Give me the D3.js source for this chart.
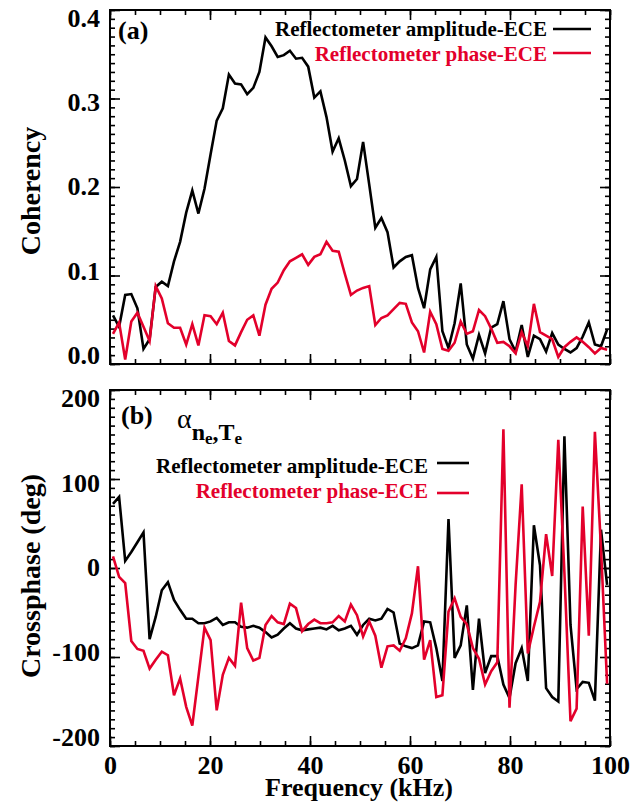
<!DOCTYPE html>
<html>
<head>
<meta charset="utf-8">
<script src="https://cdn.jsdelivr.net/npm/d3@7"></script>
<style>
  body { margin: 0; background: #fff; }
  svg text { font-family: "Liberation Serif", "Times New Roman", serif; font-weight: bold; }
</style>
</head>
<body>
<svg id="chart" width="633" height="812"></svg>
<script>
// frequency grid (kHz)
var freq = [0.60, 1.82, 3.04, 4.26, 5.48, 6.70, 7.92, 9.14, 10.36, 11.58,
    12.80, 14.02, 15.24, 16.46, 17.68, 18.90, 20.12, 21.34, 22.56, 23.78,
    25.00, 26.22, 27.44, 28.66, 29.88, 31.10, 32.32, 33.54, 34.76, 35.98,
    37.20, 38.42, 39.64, 40.86, 42.08, 43.30, 44.52, 45.74, 46.96, 48.18,
    49.40, 50.62, 51.84, 53.06, 54.28, 55.50, 56.72, 57.94, 59.16, 60.38,
    61.60, 62.82, 64.04, 65.26, 66.48, 67.70, 68.92, 70.14, 71.36, 72.58,
    73.80, 75.02, 76.24, 77.46, 78.68, 79.90, 81.12, 82.34, 83.56, 84.78,
    86.00, 87.22, 88.44, 89.66, 90.88, 92.10, 93.32, 94.54, 95.76, 96.98,
    98.20, 99.42];

// (a) coherency
var cohAmp = [0.055, 0.042, 0.078, 0.079, 0.063, 0.017, 0.028, 0.087, 0.093, 0.088,
    0.116, 0.138, 0.171, 0.196, 0.170, 0.198, 0.237, 0.275, 0.289, 0.327,
    0.317, 0.316, 0.305, 0.312, 0.330, 0.369, 0.359, 0.347, 0.349, 0.354,
    0.345, 0.346, 0.336, 0.301, 0.308, 0.279, 0.240, 0.255, 0.230, 0.201,
    0.209, 0.251, 0.203, 0.154, 0.165, 0.149, 0.109, 0.116, 0.121, 0.123,
    0.086, 0.063, 0.107, 0.121, 0.037, 0.018, 0.046, 0.091, 0.022, 0.006,
    0.033, 0.012, 0.041, 0.045, 0.071, 0.028, 0.014, 0.044, 0.008, 0.032,
    0.028, 0.014, 0.035, 0.022, 0.017, 0.013, 0.018, 0.031, 0.047, 0.022,
    0.020, 0.039];
var cohPhase = [0.034, 0.047, 0.005, 0.048, 0.058, 0.042, 0.026, 0.088, 0.074, 0.046,
    0.041, 0.041, 0.022, 0.045, 0.021, 0.055, 0.054, 0.045, 0.058, 0.026,
    0.021, 0.036, 0.050, 0.055, 0.032, 0.067, 0.085, 0.092, 0.106, 0.116,
    0.120, 0.124, 0.112, 0.121, 0.124, 0.138, 0.128, 0.127, 0.102, 0.078,
    0.083, 0.086, 0.088, 0.044, 0.052, 0.055, 0.062, 0.069, 0.068, 0.047,
    0.037, 0.013, 0.059, 0.045, 0.017, 0.015, 0.024, 0.048, 0.034, 0.037,
    0.061, 0.054, 0.040, 0.024, 0.025, 0.020, 0.012, 0.036, 0.020, 0.068,
    0.036, 0.032, 0.028, 0.008, 0.019, 0.025, 0.030, 0.025, 0.019, 0.012,
    0.018, 0.016];

// (b) crossphase in degrees
var phAmp = [72, 80, 8, 18, 29, 40, -80, -55, -25, -16,
    -36, -47, -57, -57, -62, -62, -60, -56, -64, -61,
    -61, -66, -67, -65, -67, -72, -78, -75, -68, -62,
    -68, -70, -69, -68, -67, -69, -65, -70, -68, -65,
    -75, -64, -57, -59, -57, -46, -50, -85, -88, -90,
    -87, -60, -61, -90, -127, 55, -101, -87, -42, -137,
    -57, -118, -99, -99, -131, -146, -107, -90, -127, 48,
    3, -135, -145, -150, 148, -64, -136, -128, -129, -149,
    43, -19];
var phPhase = [13, -10, -17, -82, -91, -93, -113, -103, -94, -98,
    -143, -124, -156, -177, -122, -67, -81, -160, -120, -101,
    -110, -39, -90, -104, -101, -64, -54, -61, -63, -40,
    -45, -71, -63, -58, -62, -62, -61, -54, -60, -41,
    -53, -77, -60, -76, -112, -88, -87, -93, -79, -51,
    2, -103, -81, -145, -143, -49, -34, -55, -63, -90,
    -102, -131, -116, -106, 156, -157, -19, 94, -96, -66,
    -38, 38, -9, 144, -5, -172, -158, 69, -76, 153,
    22, -130];

var xTicks = [0, 20, 40, 60, 80, 100];
var cohTicks = [0.0, 0.1, 0.2, 0.3, 0.4];
var phTicks = [-200, -100, 0, 100, 200];
var legendLabels = ["Reflectometer amplitude-ECE", "Reflectometer phase-ECE"];
var colors = ["#000000", "#e3002b"];

var svg = d3.select("#chart");
var left = 110, right = 610;

var x = d3.scaleLinear().domain([0, 100]).range([left, right]);
var yA = d3.scaleLinear().domain([0, 0.4]).range([364, 10]);
var yB = d3.scaleLinear().domain([-200, 200]).range([746, 390]);

function drawFrame(y, majors, minorStep, fmt, showX) {
    var top = y.range()[1], bottom = y.range()[0];
    var g = svg.append("g");
    var d = y.domain();
    var minors = d3.range(d[0], d[1] + minorStep / 2, minorStep);
    var xMinor = d3.range(0, 101, 5);
    // tick labels sit a little inside the frame at the ends, like the original
    var labelY = d3.scaleLinear().domain(d).range([bottom - 9, top + 8]);

    // minor ticks
    g.append("g").attr("transform", "translate(0," + bottom + ")")
        .call(d3.axisBottom(x).tickValues(xMinor).tickSize(-5).tickFormat(""));
    g.append("g").attr("transform", "translate(0," + top + ")")
        .call(d3.axisTop(x).tickValues(xMinor).tickSize(-5).tickFormat(""));
    g.append("g").attr("transform", "translate(" + left + ",0)")
        .call(d3.axisLeft(y).tickValues(minors).tickSize(-5).tickFormat(""));
    g.append("g").attr("transform", "translate(" + right + ",0)")
        .call(d3.axisRight(y).tickValues(minors).tickSize(-5).tickFormat(""));

    // major ticks
    g.append("g").attr("transform", "translate(0," + bottom + ")")
        .call(d3.axisBottom(x).tickValues(xTicks).tickSize(-10).tickPadding(10)
            .tickFormat(showX ? function(v) { return String(v); } : ""));
    g.append("g").attr("transform", "translate(0," + top + ")")
        .call(d3.axisTop(x).tickValues(xTicks).tickSize(-10).tickFormat(""));
    var ly = g.append("g").attr("transform", "translate(" + left + ",0)")
        .call(d3.axisLeft(y).tickValues(majors).tickSize(-10).tickPadding(10).tickFormat(fmt));
    g.append("g").attr("transform", "translate(" + right + ",0)")
        .call(d3.axisRight(y).tickValues(majors).tickSize(-10).tickFormat(""));

    ly.selectAll(".tick text").attr("y", function(v) { return labelY(v) - y(v); });

    g.selectAll(".domain").remove();
    g.selectAll(".tick line").attr("stroke", "#000").attr("stroke-width", 1.6);
    g.selectAll(".tick text").attr("fill", "#000")
        .style("font-size", "26px");

    g.append("rect")
        .attr("x", left).attr("y", top)
        .attr("width", right - left).attr("height", bottom - top)
        .attr("fill", "none").attr("stroke", "#000").attr("stroke-width", 2);
}

drawFrame(yA, cohTicks, 0.01, d3.format(".1f"), false);
drawFrame(yB, phTicks, 10, function(v) { return String(v); }, true);

function drawLine(y, values, color) {
    var line = d3.line()
        .x(function(d, i) { return x(freq[i]); })
        .y(function(d) { return y(d); });
    svg.append("path")
        .datum(values)
        .attr("d", line)
        .attr("fill", "none")
        .attr("stroke", color)
        .attr("stroke-width", 2.6)
        .attr("stroke-linejoin", "miter");
}

drawLine(yA, cohAmp, colors[0]);
drawLine(yA, cohPhase, colors[1]);
drawLine(yB, phAmp, colors[0]);
drawLine(yB, phPhase, colors[1]);

// legends
function legend(textRight, lineX0, lineX1, rows) {
    rows.forEach(function(r, i) {
        svg.append("text")
            .attr("x", textRight).attr("y", r.base)
            .attr("text-anchor", "end")
            .style("font-size", "21px")
            .attr("fill", colors[i])
            .text(legendLabels[i]);
        svg.append("line")
            .attr("x1", lineX0).attr("x2", lineX1)
            .attr("y1", r.line).attr("y2", r.line)
            .attr("stroke", colors[i]).attr("stroke-width", 2.6);
    });
}
legend(547, 553, 591, [{base: 36, line: 29}, {base: 61, line: 53}]);
legend(428, 437, 469, [{base: 473, line: 463}, {base: 498, line: 493}]);

// panel tags
svg.append("text").attr("x", 118).attr("y", 39).style("font-size", "26px").text("(a)");
svg.append("text").attr("x", 121).attr("y", 424).style("font-size", "26px").text("(b)");

// alpha_{n_e,T_e}
var alpha = svg.append("text").attr("x", 177).attr("y", 428);
alpha.append("tspan").style("font-size", "28px").style("font-weight", "normal").text("\u03b1");
alpha.append("tspan").attr("y", 440).style("font-size", "24px").text("n");
alpha.append("tspan").attr("y", 444).style("font-size", "17px").text("e");
alpha.append("tspan").attr("y", 440).style("font-size", "24px").text(",T");
alpha.append("tspan").attr("y", 444).style("font-size", "17px").text("e");

// axis titles
svg.append("text")
    .attr("transform", "translate(40," + ((10 + 364) / 2 + 4) + ") rotate(-90)")
    .attr("text-anchor", "middle")
    .style("font-size", "28px")
    .text("Coherency");
svg.append("text")
    .attr("transform", "translate(40,576) rotate(-90)")
    .attr("text-anchor", "middle")
    .style("font-size", "28px")
    .text("Crossphase (deg)");
svg.append("text")
    .attr("x", (left + right) / 2 - 1).attr("y", 796)
    .attr("text-anchor", "middle")
    .style("font-size", "26px")
    .text("Frequency (kHz)");
</script>
</body>
</html>
